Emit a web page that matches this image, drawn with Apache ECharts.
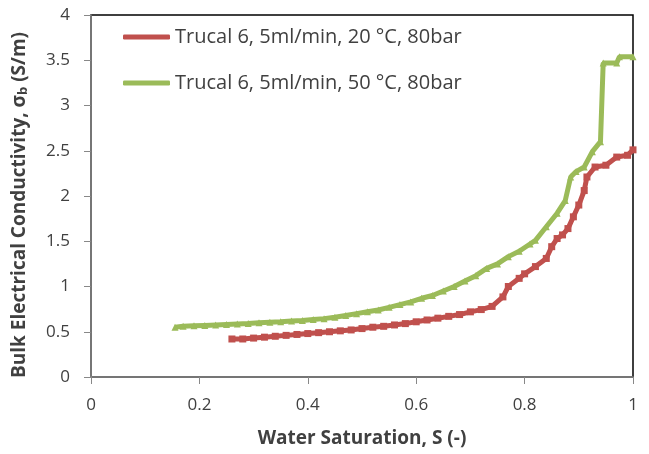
<!DOCTYPE html>
<html>
<head>
<meta charset="utf-8">
<script src="https://cdn.jsdelivr.net/npm/echarts@6/dist/echarts.min.js"></script>
<style>
  html, body { margin: 0; padding: 0; background: #fff; }
  #chart { width: 649px; height: 454px; }
</style>
</head>
<body>
<div id="chart"></div>
<script>
// values: [water saturation, conductivity]
var series20Name = "Trucal 6, 5ml/min, 20 °C, 80bar";
var series50Name = "Trucal 6, 5ml/min, 50 °C, 80bar";

var series20 = [
    [0.26, 0.42], [0.28, 0.42], [0.30, 0.43], [0.32, 0.44], [0.34, 0.45], [0.36, 0.46],
    [0.38, 0.47], [0.40, 0.48], [0.42, 0.49], [0.44, 0.50], [0.46, 0.51], [0.48, 0.52],
    [0.50, 0.535], [0.52, 0.55], [0.54, 0.56], [0.56, 0.575], [0.58, 0.59], [0.60, 0.61],
    [0.62, 0.63], [0.64, 0.65], [0.66, 0.67], [0.68, 0.69], [0.70, 0.72], [0.72, 0.745],
    [0.74, 0.78], [0.76, 0.885], [0.77, 1.0], [0.79, 1.09], [0.80, 1.14], [0.82, 1.22],
    [0.84, 1.31], [0.85, 1.44], [0.86, 1.53], [0.87, 1.57], [0.88, 1.64], [0.89, 1.77],
    [0.90, 1.9], [0.91, 2.06], [0.915, 2.21], [0.93, 2.32], [0.95, 2.34], [0.97, 2.43],
    [0.99, 2.45], [1.0, 2.51]
];

var series50 = [
    [0.155, 0.55], [0.17, 0.56], [0.19, 0.565], [0.21, 0.57], [0.23, 0.575], [0.25, 0.58],
    [0.27, 0.585], [0.29, 0.59], [0.31, 0.60], [0.33, 0.605], [0.35, 0.61], [0.37, 0.62],
    [0.39, 0.625], [0.41, 0.635], [0.43, 0.645], [0.45, 0.66], [0.47, 0.68], [0.49, 0.70],
    [0.51, 0.72], [0.53, 0.74], [0.55, 0.77], [0.57, 0.80], [0.59, 0.83], [0.61, 0.87],
    [0.63, 0.90], [0.65, 0.95], [0.67, 1.00], [0.69, 1.06], [0.71, 1.12], [0.73, 1.20],
    [0.75, 1.25], [0.77, 1.33], [0.79, 1.39], [0.81, 1.47], [0.82, 1.51], [0.84, 1.66],
    [0.86, 1.81], [0.875, 1.95], [0.885, 2.21], [0.895, 2.27], [0.91, 2.32], [0.925, 2.49],
    [0.94, 2.6], [0.945, 3.47], [0.97, 3.47], [0.975, 3.54], [1.0, 3.54]
];

var redColor = "#c0504d";
var greenColor = "#9bbb59";
var textColor = "#404040";
var fontName = "'Open Sans', 'Liberation Sans', sans-serif";

var chart = echarts.init(document.getElementById("chart"));

var option = {
    animation: false,
    textStyle: { fontFamily: fontName },
    grid: {
        left: 91,
        right: 16,
        top: 15,
        bottom: 77,
        show: true,
        borderColor: "#000",
        borderWidth: 1.5
    },
    legend: {
        orient: "vertical",
        left: 118,
        top: 22,
        itemGap: 26,
        itemWidth: 47,
        itemHeight: 5,
        icon: "roundRect",
        textStyle: { fontSize: 20, color: textColor, fontFamily: fontName },
        data: [
            { name: series20Name, itemStyle: { color: redColor } },
            { name: series50Name, itemStyle: { color: greenColor } }
        ]
    },
    xAxis: {
        type: "value",
        min: 0,
        max: 1,
        interval: 0.2,
        name: "Water Saturation, S (-)",
        nameLocation: "middle",
        nameGap: 52,
        nameTextStyle: { fontSize: 19, fontWeight: "bold", color: textColor },
        axisLine: { lineStyle: { color: "#888", width: 1.5 } },
        axisTick: { show: true, length: 7, lineStyle: { color: "#888" } },
        axisLabel: { fontSize: 17, color: textColor, margin: 20 },
        splitLine: { show: false }
    },
    yAxis: {
        type: "value",
        min: 0,
        max: 4,
        interval: 0.5,
        name: "Bulk Electrical Conductivity, σ{sub|b} (S/m)",
        nameLocation: "middle",
        nameRotate: 90,
        nameGap: 61,
        nameTextStyle: {
            fontSize: 19,
            fontWeight: "bold",
            color: textColor,
            padding: [0, 18, 0, 0],
            rich: {
                sub: { fontSize: 13, fontWeight: "bold", color: textColor, verticalAlign: "bottom", padding: [8, 0, 0, 0] }
            }
        },
        axisLine: { show: true, lineStyle: { color: "#888", width: 1.5 } },
        axisTick: { show: true, length: 7, lineStyle: { color: "#888" } },
        axisLabel: { fontSize: 17, color: textColor, margin: 21 },
        splitLine: { show: false }
    },
    series: [
        {
            name: series20Name,
            type: "line",
            data: series20,
            color: redColor,
            symbol: "rect",
            symbolSize: 7,
            showSymbol: true,
            lineStyle: { width: 5, color: redColor },
            itemStyle: { color: redColor }
        },
        {
            name: series50Name,
            type: "line",
            data: series50,
            color: greenColor,
            symbol: "triangle",
            symbolSize: 7,
            showSymbol: true,
            lineStyle: { width: 5, color: greenColor },
            itemStyle: { color: greenColor }
        }
    ]
};

chart.setOption(option);
</script>
</body>
</html>
